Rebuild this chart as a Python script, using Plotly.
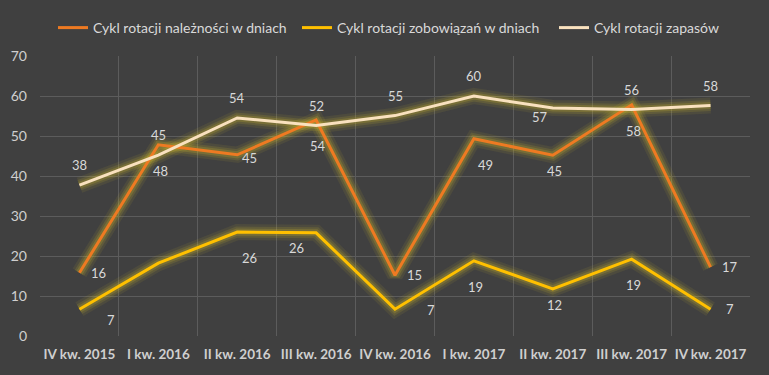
import plotly.graph_objects as go

categories = ["IV kw. 2015", "I kw. 2016", "II kw. 2016", "III kw. 2016", "IV kw. 2016",
              "I kw. 2017", "II kw. 2017", "III kw. 2017", "IV kw. 2017"]

names = ["Cykl rotacji należności w dniach", "Cykl rotacji zobowiązań w dniach", "Cykl rotacji zapasów"]

naleznosci = [15.8, 47.8, 45.3, 54.0, 15.2, 49.3, 45.2, 57.8, 17.2]
zobowiazania = [6.7, 18.2, 26.0, 25.8, 6.7, 18.8, 11.8, 19.2, 6.7]
zapasy = [37.7, 45.2, 54.5, 52.6, 55.1, 60.0, 57.0, 56.6, 57.6]

labels_naleznosci = ["16", "48", "45", "54", "15", "49", "45", "58", "17"]
labels_zobowiazania = ["7", "", "26", "26", "7", "19", "12", "19", "7"]
labels_zapasy = ["38", "45", "54", "52", "55", "60", "57", "56", "58"]

# label placement codes (relative to the point)
pos_naleznosci = ["r", "b", "rn", "b", "r", "bs", "bn", "b", "r"]
pos_zobowiazania = ["brf", "b", "bs", "bl", "rf", "b", "bn", "b", "r"]
pos_zapasy = ["t", "t", "t", "t", "t", "t", "ln", "t", "t"]

placement = {"r": (19, 0), "rn": (12, -3), "rf": (36, -1), "brf": (32, -11),
             "b": (2, -26), "bs": (12, -26), "bn": (2, -16),
             "bl": (-20, -15), "t": (0, 20), "ln": (-13, -9)}

colors = ["#EE7A22", "#FFC000", "#F9E1BE"]
legend_groups = ["legend", "legend", "legend2"]
glow = "rgba(215,190,40,{a})"
font_family = "Lato, Open Sans, sans-serif"

series = [naleznosci, zobowiazania, zapasy]
label_sets = [labels_naleznosci, labels_zobowiazania, labels_zapasy]
pos_sets = [pos_naleznosci, pos_zobowiazania, pos_zapasy]

fig = go.Figure()

# soft glow under every line
for vals in series:
    for w, a in [(16, 0.09), (11, 0.14), (7, 0.20)]:
        fig.add_trace(go.Scatter(x=categories, y=vals, mode="lines",
                                 line=dict(color=glow.format(a=a), width=w),
                                 showlegend=False, hoverinfo="skip"))

for vals, name, col, lg in zip(series, names, colors, legend_groups):
    fig.add_trace(go.Scatter(x=categories, y=vals, mode="lines", name=name,
                             line=dict(color=col, width=3), legend=lg))

annotations = []
for vals, labs, poss in zip(series, label_sets, pos_sets):
    for c, v, t, p in zip(categories, vals, labs, poss):
        if not t:
            continue
        dx, dy = placement[p]
        annotations.append(dict(x=c, y=v, text=t, showarrow=False,
                                xshift=dx, yshift=dy,
                                font=dict(family=font_family, size=13, color="#D9D9D9")))

legend_common = dict(orientation="h", xref="container", yref="container",
                     xanchor="left", y=1 - 28 / 375, yanchor="middle",
                     font=dict(size=14, color="#D9D9D9"), bgcolor="rgba(0,0,0,0)",
                     itemwidth=30, tracegroupgap=0)

fig.update_layout(
    width=769, height=375,
    paper_bgcolor="#404040", plot_bgcolor="#404040",
    margin=dict(l=40, r=19, t=56, b=39, autoexpand=False),
    font=dict(family=font_family, color="#D9D9D9", size=13),
    legend=dict(legend_common, x=53 / 769, entrywidth=199, entrywidthmode="pixels"),
    legend2=dict(legend_common, x=554 / 769),
    annotations=annotations,
    xaxis=dict(type="category", range=[-0.5, 8.5], tickson="boundaries", showgrid=True,
               gridcolor="#5C5C5C", gridwidth=1, ticks="", showline=False, zeroline=False,
               automargin=False, ticklabelstandoff=8, tickangle=0,
               tickfont=dict(family=font_family, size=13.5, color="#CFCFCF", weight="bold")),
    yaxis=dict(range=[0, 70], dtick=10, showgrid=True, gridcolor="#5C5C5C", gridwidth=1,
               zeroline=False, showline=False, ticks="", automargin=False,
               ticklabelstandoff=12,
               tickfont=dict(size=14, color="#CFCFCF")),
)

fig.write_html("out.html", config={"displayModeBar": False},
               post_script="document.body.style.margin='0px';")
